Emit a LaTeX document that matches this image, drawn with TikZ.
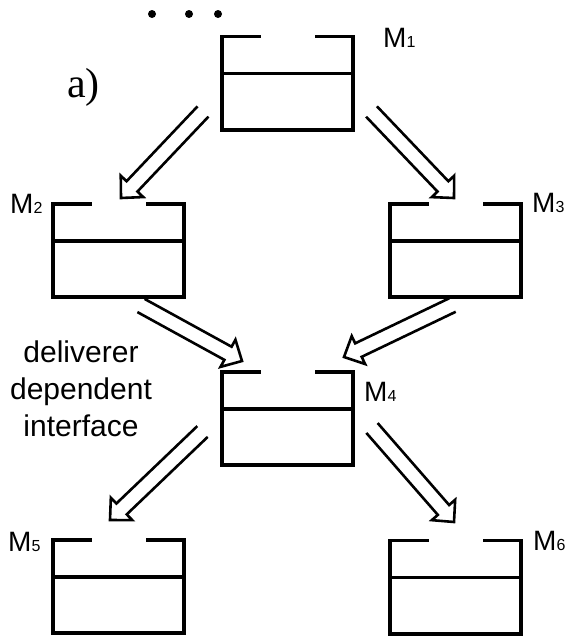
\documentclass[tikz,border=0pt]{standalone}
\usepackage{fontspec}
\setmainfont{Liberation Sans}
\newfontfamily\seriffont{Liberation Serif}
\usetikzlibrary{calc}
\tikzset{
  modbox/.style={rectangle, minimum width=131pt, minimum height=93pt, inner sep=0pt, draw=none},
  boxline/.style={line width=3.6pt, line join=miter, line cap=rect},
  harrow/.style={line width=2.6pt, line join=miter},
  mlabel/.style={anchor=base west, inner sep=0pt, font=\fontsize{28}{28}\selectfont},
  dotmark/.style={fill=black, draw=none}
}
\newcommand\mlab[1]{M{\fontsize{16}{16}\selectfont #1}}
\newcommand\drawbox[1]{%
  \draw[boxline] ($(#1.north west)+(37,0)$) -- (#1.north west) -- (#1.south west)
     -- (#1.south east) -- (#1.north east) -- ($(#1.north east)+(-36,0)$);
  \draw[boxline] ($(#1.north west)!0.4!(#1.south west)$) -- ($(#1.north east)!0.4!(#1.south east)$);
}
\newcommand\hollowarrow[2]{%
  \coordinate (hb) at ($(#2)!16pt!(#1)$);
  \draw[harrow] ($(#1)!7.5pt!90:(#2)$) -- ($(hb)!7.5pt!90:(#2)$) -- ($(hb)!15.5pt!90:(#2)$)
     -- (#2) -- ($(hb)!15.5pt!-90:(#2)$) -- ($(hb)!7.5pt!-90:(#2)$) -- ($(#1)!7.5pt!-90:(#2)$);
}
\begin{document}
\begin{tikzpicture}[x=1pt,y=-1pt]
\useasboundingbox (0,0) rectangle (566,637);
% boxes
\node[modbox] (m1) at (287.5,83) {};
\node[modbox] (m2) at (118.5,250.5) {};
\node[modbox] (m3) at (455.5,250.5) {};
\node[modbox] (m4) at (287.5,418.5) {};
\node[modbox] (m5) at (118.5,586.5) {};
\node[modbox] (m6) at (455.5,587) {};
\drawbox{m1}\drawbox{m2}\drawbox{m3}\drawbox{m4}\drawbox{m5}\drawbox{m6}
% labels
\node[mlabel] (l1) at (383,47) {\mlab{1}};
\node[mlabel] (l2) at (10,213) {\mlab{2}};
\node[mlabel] (l3) at (532,212) {\mlab{3}};
\node[mlabel] (l4) at (364,401) {\mlab{4}};
\node[mlabel] (l5) at (8,551) {\mlab{5}};
\node[mlabel] (l6) at (533,550) {\mlab{6}};
\node[anchor=base west, inner sep=0pt, font=\seriffont\fontsize{42}{42}\selectfont] (lab) at (67,97) {a)};
\node[anchor=north, inner sep=0pt, align=center, font=\fontsize{30}{37}\selectfont] (ddi) at (81,341) {deliverer\\dependent\\interface};
% dots
\fill[dotmark] (152,14) circle (4);
\fill[dotmark] (189,14) circle (4);
\fill[dotmark] (218,14) circle (4);
% arrow end points
\coordinate (s12) at (203,111.5); \coordinate (t12) at (121,198);
\coordinate (s13) at (371.5,111.5); \coordinate (t13) at (454,198);
\coordinate (s24) at (141,305.5); \coordinate (t24) at (242,361);
\coordinate (s34) at (452.5,305); \coordinate (t34) at (344,357);
\coordinate (s45) at (202.5,431.5); \coordinate (t45) at (110,520);
\coordinate (s46) at (372,428); \coordinate (t46) at (454,522);
\hollowarrow{s12}{t12}
\hollowarrow{s13}{t13}
\hollowarrow{s24}{t24}
\hollowarrow{s34}{t34}
\hollowarrow{s45}{t45}
\hollowarrow{s46}{t46}
\end{tikzpicture}
\end{document}
